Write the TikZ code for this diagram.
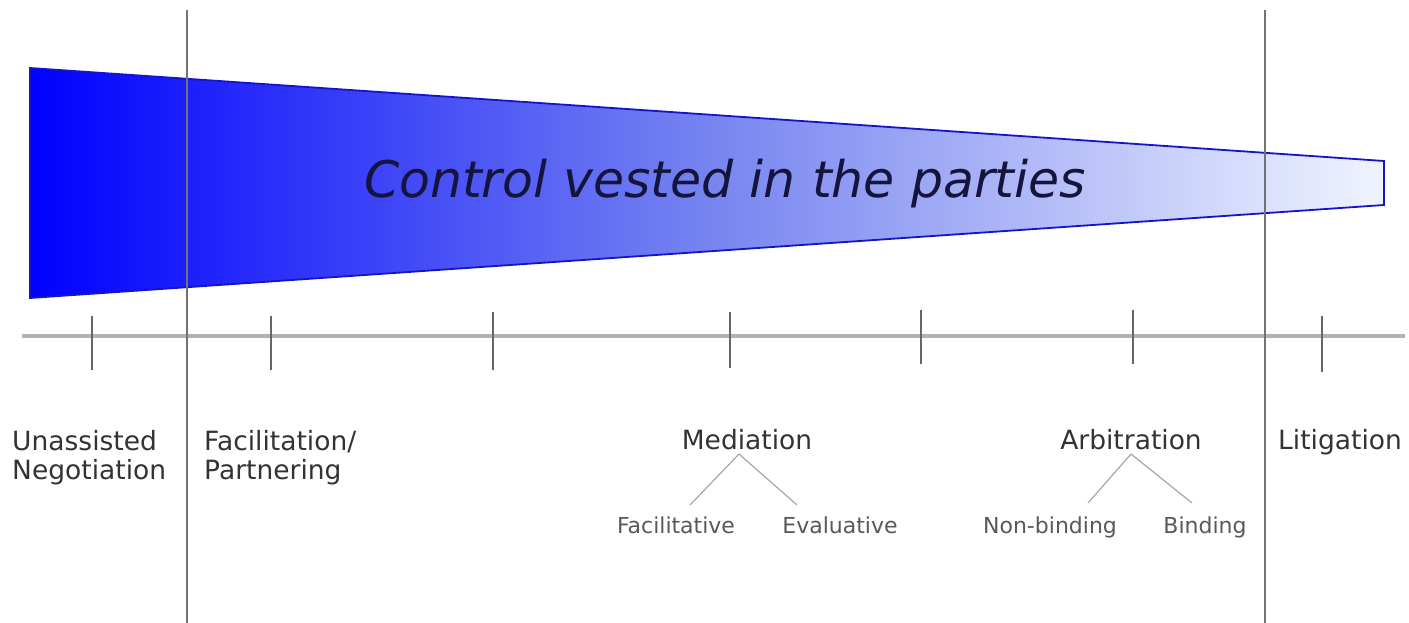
\documentclass[tikz,border=0pt]{standalone}
\usepackage{fontspec}
\setmainfont{DejaVu Sans}
\begin{document}
\begin{tikzpicture}[x=1bp,y=-1bp,
  lbl/.style={inner sep=0pt,text=black!80,font=\fontsize{26.5bp}{30bp}\selectfont,align=left},
  sublbl/.style={inner sep=0pt,text=black!65,font=\fontsize{22bp}{24bp}\selectfont},
  vline/.style={draw=black!55,line width=1.6bp},
  axisline/.style={draw=black!30,line width=3.5bp},
  tick/.style={draw=black!60,line width=1.6bp},
  branch/.style={draw=black!35,line width=1.2bp}]
\useasboundingbox[fill=white] (0,0) rectangle (1409,623);
% wedge
\shade[left color={rgb,255:red,0;green,0;blue,255},right color={rgb,255:red,240;green,244;blue,255},middle color={rgb,255:red,118;green,132;blue,240}]
  (30,68) -- (1384,161) -- (1384,205) -- (30,298) -- cycle;
\draw[draw={rgb,255:red,20;green,20;blue,200},line width=1.8bp,line join=miter]
  (30,68) -- (1384,161) -- (1384,205) -- (30,298) -- cycle;
\node[inner sep=0pt,anchor=base,text={rgb,255:red,20;green,20;blue,60},font=\fontsize{50.5bp}{54bp}\selectfont\itshape] (title) at (725,198) {Control vested in the parties};
% axis
\coordinate (axL) at (22,336);
\coordinate (axR) at (1405,336);
\draw[axisline] (axL) -- (axR);
% ticks
\foreach \n/\x/\a/\b in {t1/92/316/370,t2/271/316/370,t3/493/312/370,t4/730/312/368,t5/921/310/364,t6/1133/310/364,t7/1322/316/372}{
  \coordinate (\n a) at (\x,\a);
  \coordinate (\n b) at (\x,\b);
  \draw[tick] (\n a) -- (\n b);
}
% vertical lines
\coordinate (v1a) at (187,10); \coordinate (v1b) at (187,623);
\coordinate (v2a) at (1265,10); \coordinate (v2b) at (1265,623);
\draw[vline] (v1a) -- (v1b);
\draw[vline] (v2a) -- (v2b);
% labels
\node[lbl,anchor=base west] (una) at (12,479) {Unassisted\\[-1bp]Negotiation};
\node[lbl,anchor=base west] (fac) at (204,479) {Facilitation/\\[-1bp]Partnering};
\node[lbl,anchor=base] (med) at (747,449) {Mediation};
\node[lbl,anchor=base] (arb) at (1131,449) {Arbitration};
\node[lbl,anchor=base west] (lit) at (1278,449) {Litigation};
% sub labels
\node[sublbl,anchor=base] (facv) at (676,533) {Facilitative};
\node[sublbl,anchor=base] (eval) at (840,533) {Evaluative};
\node[sublbl,anchor=base] (nonb) at (1050,533) {Non-binding};
\node[sublbl,anchor=base] (bind) at (1205,533) {Binding};
\coordinate (m0) at (739,454);
\coordinate (m1) at (690,505);
\coordinate (m2) at (797,505);
\coordinate (a0) at (1131,454);
\coordinate (a1) at (1088,503);
\coordinate (a2) at (1192,503);
\draw[branch] (m0) -- (m1);
\draw[branch] (m0) -- (m2);
\draw[branch] (a0) -- (a1);
\draw[branch] (a0) -- (a2);
\end{tikzpicture}
\end{document}
